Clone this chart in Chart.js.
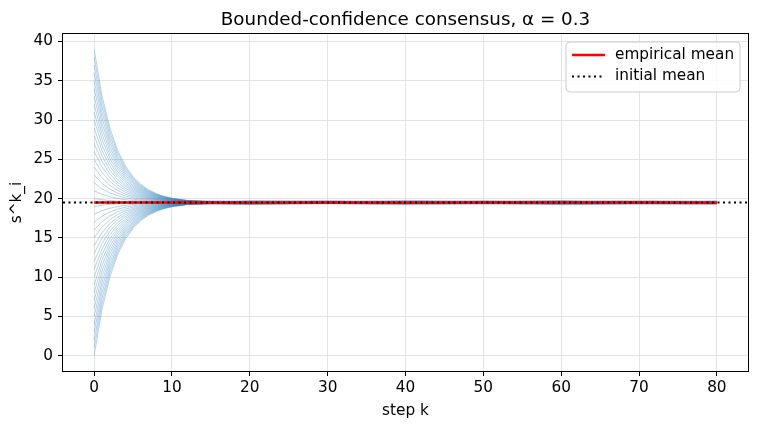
<!DOCTYPE html>
<html>
<head>
<meta charset="utf-8">
<script src="https://cdn.jsdelivr.net/npm/chart.js@4.4.1/dist/chart.umd.min.js"></script>
<style>
    html, body { margin: 0; padding: 0; background: #fff; }
    #wrap { width: 758px; height: 429px; }
</style>
</head>
<body>
<div id="wrap"><canvas id="chart" width="758" height="429"></canvas></div>
<script>
const steps = [0, 1, 2, 3, 4, 5, 6, 7, 8, 9, 10, 12, 15, 20, 30, 40, 50, 60, 70, 80];

// one row per agent, values at the steps above
const agentPaths = [
    [39, 33.15, 29.06, 26.19, 24.18, 22.78, 21.79, 21.11, 20.62, 20.29, 20.05, 19.77, 19.70, 19.58, 19.36, 19.72, 19.52, 19.74, 19.40, 19.68],
    [38, 32.45, 28.57, 25.85, 23.94, 22.61, 21.68, 21.02, 20.57, 20.25, 20.02, 19.76, 19.58, 19.47, 19.60, 19.44, 19.66, 19.51, 19.57, 19.48],
    [37, 31.75, 28.08, 25.50, 23.70, 22.44, 21.56, 20.94, 20.51, 20.21, 19.99, 19.74, 19.60, 19.62, 19.53, 19.48, 19.42, 19.64, 19.59, 19.45],
    [36, 31.05, 27.59, 25.16, 23.46, 22.27, 21.44, 20.86, 20.45, 20.17, 19.97, 19.73, 19.57, 19.51, 19.66, 19.55, 19.49, 19.43, 19.61, 19.53],
    [35, 30.35, 27.10, 24.82, 23.22, 22.11, 21.32, 20.78, 20.39, 20.13, 19.94, 19.72, 19.59, 19.45, 19.52, 19.61, 19.58, 19.50, 19.40, 19.57],
    [34, 29.65, 26.61, 24.47, 22.98, 21.94, 21.21, 20.69, 20.34, 20.09, 19.91, 19.70, 19.55, 19.58, 19.47, 19.52, 19.63, 19.56, 19.48, 19.44],
    [33, 28.95, 26.12, 24.13, 22.74, 21.77, 21.09, 20.61, 20.28, 20.05, 19.88, 19.69, 19.61, 19.50, 19.56, 19.40, 19.54, 19.62, 19.53, 19.59],
    [32, 28.25, 25.63, 23.79, 22.50, 21.60, 20.97, 20.53, 20.22, 20.00, 19.85, 19.67, 19.54, 19.63, 19.44, 19.57, 19.46, 19.53, 19.64, 19.50],
    [31, 27.55, 25.14, 23.45, 22.26, 21.43, 20.85, 20.45, 20.16, 19.96, 19.83, 19.66, 19.56, 19.49, 19.62, 19.51, 19.59, 19.41, 19.55, 19.47],
    [30, 26.85, 24.65, 23.10, 22.02, 21.27, 20.74, 20.37, 20.11, 19.92, 19.80, 19.65, 19.66, 19.74, 19.55, 19.78, 19.62, 19.71, 19.58, 19.69],
    [29, 26.15, 24.16, 22.76, 21.78, 21.10, 20.62, 20.28, 20.05, 19.88, 19.77, 19.63, 19.58, 19.44, 19.57, 19.49, 19.61, 19.47, 19.62, 19.43],
    [28, 25.45, 23.67, 22.42, 21.54, 20.93, 20.50, 20.20, 19.99, 19.84, 19.74, 19.62, 19.52, 19.60, 19.42, 19.56, 19.50, 19.64, 19.45, 19.58],
    [27, 24.75, 23.18, 22.07, 21.30, 20.76, 20.38, 20.12, 19.93, 19.80, 19.71, 19.60, 19.55, 19.52, 19.61, 19.45, 19.57, 19.49, 19.58, 19.51],
    [26, 24.05, 22.69, 21.73, 21.06, 20.59, 20.27, 20.04, 19.88, 19.76, 19.68, 19.59, 19.50, 19.46, 19.54, 19.60, 19.52, 19.44, 19.56, 19.62],
    [25, 23.35, 22.20, 21.39, 20.82, 20.42, 20.15, 19.95, 19.82, 19.72, 19.66, 19.58, 19.57, 19.55, 19.48, 19.53, 19.65, 19.55, 19.47, 19.49],
    [24, 22.65, 21.71, 21.04, 20.58, 20.26, 20.03, 19.87, 19.76, 19.68, 19.63, 19.56, 19.53, 19.61, 19.55, 19.46, 19.51, 19.60, 19.53, 19.54],
    [23, 21.95, 21.22, 20.70, 20.34, 20.09, 19.91, 19.79, 19.70, 19.64, 19.60, 19.55, 19.49, 19.53, 19.45, 19.59, 19.48, 19.52, 19.63, 19.46],
    [22, 21.25, 20.73, 20.36, 20.10, 19.92, 19.79, 19.71, 19.64, 19.60, 19.57, 19.53, 19.56, 19.48, 19.59, 19.54, 19.56, 19.45, 19.51, 19.60],
    [21, 20.55, 20.24, 20.02, 19.86, 19.75, 19.68, 19.62, 19.59, 19.56, 19.54, 19.52, 19.51, 19.57, 19.52, 19.42, 19.60, 19.54, 19.48, 19.52],
    [20, 19.85, 19.75, 19.67, 19.62, 19.58, 19.56, 19.54, 19.53, 19.52, 19.51, 19.51, 19.44, 19.70, 19.76, 19.60, 19.73, 19.66, 19.78, 19.62],
    [19, 19.15, 19.26, 19.33, 19.38, 19.42, 19.44, 19.46, 19.47, 19.48, 19.49, 19.49, 19.36, 19.27, 19.33, 19.21, 19.31, 19.25, 19.35, 19.30],
    [18, 18.45, 18.77, 18.99, 19.14, 19.25, 19.32, 19.38, 19.41, 19.44, 19.46, 19.48, 19.49, 19.43, 19.48, 19.58, 19.40, 19.46, 19.54, 19.47],
    [17, 17.75, 18.28, 18.64, 18.90, 19.08, 19.21, 19.29, 19.36, 19.40, 19.43, 19.47, 19.44, 19.52, 19.41, 19.46, 19.44, 19.55, 19.49, 19.40],
    [16, 17.05, 17.79, 18.30, 18.66, 18.91, 19.09, 19.21, 19.30, 19.36, 19.40, 19.45, 19.51, 19.39, 19.55, 19.41, 19.52, 19.48, 19.37, 19.54],
    [15, 16.35, 17.30, 17.96, 18.42, 18.74, 18.97, 19.13, 19.24, 19.32, 19.37, 19.44, 19.43, 19.47, 19.38, 19.50, 19.36, 19.44, 19.47, 19.50],
    [14, 15.65, 16.81, 17.61, 18.18, 18.58, 18.85, 19.05, 19.18, 19.28, 19.35, 19.42, 19.46, 19.41, 19.49, 19.37, 19.47, 19.39, 19.52, 19.42],
    [13, 14.95, 16.32, 17.27, 17.94, 18.41, 18.74, 18.97, 19.13, 19.24, 19.32, 19.41, 19.40, 19.50, 19.43, 19.45, 19.38, 19.53, 19.40, 19.46],
    [12, 14.25, 15.83, 16.93, 17.70, 18.24, 18.62, 18.88, 19.07, 19.20, 19.29, 19.40, 19.45, 19.37, 19.52, 19.39, 19.50, 19.42, 19.45, 19.38],
    [11, 13.55, 15.34, 16.58, 17.46, 18.07, 18.50, 18.80, 19.01, 19.16, 19.26, 19.38, 19.42, 19.44, 19.36, 19.53, 19.41, 19.37, 19.48, 19.51],
    [10, 12.85, 14.85, 16.24, 17.22, 17.90, 18.38, 18.72, 18.95, 19.12, 19.23, 19.37, 19.39, 19.48, 19.45, 19.40, 19.54, 19.46, 19.36, 19.44],
    [9, 12.15, 14.36, 15.90, 16.98, 17.74, 18.27, 18.64, 18.90, 19.08, 19.20, 19.36, 19.32, 19.24, 19.38, 19.27, 19.36, 19.22, 19.30, 19.29],
    [8, 11.45, 13.87, 15.56, 16.74, 17.57, 18.15, 18.55, 18.84, 19.04, 19.18, 19.34, 19.41, 19.46, 19.38, 19.47, 19.42, 19.35, 19.50, 19.45],
    [7, 10.75, 13.38, 15.21, 16.50, 17.40, 18.03, 18.47, 18.78, 19.00, 19.15, 19.33, 19.38, 19.42, 19.47, 19.36, 19.48, 19.43, 19.39, 19.49],
    [6, 10.05, 12.89, 14.87, 16.26, 17.23, 17.91, 18.39, 18.72, 18.96, 19.12, 19.31, 19.43, 19.38, 19.42, 19.51, 19.37, 19.47, 19.44, 19.36],
    [5, 9.35, 12.40, 14.53, 16.02, 17.06, 17.79, 18.31, 18.66, 18.92, 19.09, 19.30, 19.37, 19.45, 19.39, 19.43, 19.49, 19.38, 19.51, 19.43],
    [4, 8.65, 11.91, 14.18, 15.78, 16.90, 17.68, 18.22, 18.61, 18.88, 19.06, 19.29, 19.40, 19.35, 19.46, 19.38, 19.44, 19.50, 19.41, 19.47],
    [3, 7.95, 11.42, 13.84, 15.54, 16.73, 17.56, 18.14, 18.55, 18.83, 19.03, 19.27, 19.36, 19.43, 19.37, 19.48, 19.35, 19.45, 19.46, 19.39],
    [2, 7.25, 10.93, 13.50, 15.30, 16.56, 17.44, 18.06, 18.49, 18.79, 19.01, 19.26, 19.39, 19.40, 19.44, 19.35, 19.46, 19.41, 19.37, 19.48],
    [1, 6.55, 10.44, 13.15, 15.06, 16.39, 17.32, 17.98, 18.43, 18.75, 18.98, 19.24, 19.35, 19.44, 19.40, 19.45, 19.39, 19.49, 19.42, 19.44],
    [0, 5.85, 9.95, 12.81, 14.82, 16.22, 17.21, 17.89, 18.38, 18.71, 18.95, 19.23, 19.30, 19.26, 19.46, 19.32, 19.60, 19.28, 19.34, 19.31]
];

const meanPath = [19.5, 19.5, 19.5, 19.5, 19.5, 19.5, 19.5, 19.5, 19.5, 19.5, 19.5, 19.5, 19.48, 19.48, 19.49, 19.48, 19.5, 19.5, 19.49, 19.48];
const initialMean = 19.5;

const xTicks = [0, 10, 20, 30, 40, 50, 60, 70, 80];
const yTicks = [0, 5, 10, 15, 20, 25, 30, 35, 40];
const xRange = [-4, 84];
const yRange = [-1.95, 40.95];

const FONT = '"DejaVu Sans", "Liberation Sans", sans-serif';

const toPoints = (vals) => steps.map((k, i) => ({ x: k, y: vals[i] }));

const datasets = [
    {
        label: 'initial mean',
        data: [{ x: xRange[0], y: initialMean }, { x: xRange[1], y: initialMean }],
        borderColor: '#000000',
        borderWidth: 2,
        borderDash: [2, 3.5],
        borderCapStyle: 'butt',
        pointRadius: 0,
        order: 0
    },
    {
        label: 'empirical mean',
        data: toPoints(meanPath),
        borderColor: '#ff0000',
        borderWidth: 2.5,
        pointRadius: 0,
        order: 1
    },
    ...agentPaths.map((p) => ({
        label: '',
        data: toPoints(p),
        borderColor: 'rgba(31,119,180,0.36)',
        borderWidth: 0.9,
        pointRadius: 0,
        order: 2
    }))
];

// title, axis labels, frame and the in-axes legend
const decor = {
    id: 'decor',
    afterDraw(chart) {
        const { ctx, chartArea: a } = chart;
        const cx = (a.left + a.right) / 2;
        const cy = (a.top + a.bottom) / 2;
        ctx.save();

        ctx.strokeStyle = '#000';
        ctx.lineWidth = 1;
        ctx.strokeRect(Math.round(a.left) - 0.5, Math.round(a.top) - 0.5,
            Math.round(a.right - a.left) + 1, Math.round(a.bottom - a.top) + 1);

        ctx.fillStyle = '#000';
        ctx.textAlign = 'center';
        ctx.textBaseline = 'alphabetic';
        ctx.font = '18.3px ' + FONT;
        ctx.fillText('Bounded-confidence consensus, α = 0.3', cx, 25);

        ctx.font = '15.3px ' + FONT;
        ctx.fillText('step k', cx, 415);

        ctx.save();
        ctx.translate(21, cy);
        ctx.rotate(-Math.PI / 2);
        ctx.fillText('s^k_i', 0, 0);
        ctx.restore();

        // legend box
        const bx = 566, by = 42, bw = 174, bh = 50, r = 4;
        ctx.beginPath();
        ctx.moveTo(bx + r, by);
        ctx.arcTo(bx + bw, by, bx + bw, by + bh, r);
        ctx.arcTo(bx + bw, by + bh, bx, by + bh, r);
        ctx.arcTo(bx, by + bh, bx, by, r);
        ctx.arcTo(bx, by, bx + bw, by, r);
        ctx.closePath();
        ctx.fillStyle = 'rgba(255,255,255,0.8)';
        ctx.fill();
        ctx.strokeStyle = '#cccccc';
        ctx.lineWidth = 1;
        ctx.stroke();

        ctx.lineCap = 'butt';
        ctx.beginPath();
        ctx.strokeStyle = '#ff0000';
        ctx.lineWidth = 2.5;
        ctx.moveTo(572, 55);
        ctx.lineTo(605, 55);
        ctx.stroke();

        ctx.beginPath();
        ctx.strokeStyle = '#000';
        ctx.lineWidth = 2;
        ctx.setLineDash([2, 3.5]);
        ctx.moveTo(572, 76.5);
        ctx.lineTo(605, 76.5);
        ctx.stroke();
        ctx.setLineDash([]);

        ctx.fillStyle = '#000';
        ctx.textAlign = 'left';
        ctx.textBaseline = 'middle';
        ctx.font = '15.3px ' + FONT;
        ctx.fillText('empirical mean', 615, 55);
        ctx.fillText('initial mean', 615, 76.5);

        ctx.restore();
    }
};

new Chart(document.getElementById('chart'), {
    type: 'line',
    data: { datasets },
    options: {
        responsive: false,
        animation: false,
        devicePixelRatio: 1,
        events: [],
        layout: { padding: { left: 0, right: 10, top: 34, bottom: 0 } },
        plugins: {
            legend: { display: false },
            tooltip: { enabled: false },
            title: { display: false }
        },
        elements: { line: { tension: 0 } },
        scales: {
            x: {
                type: 'linear',
                min: xRange[0],
                max: xRange[1],
                afterBuildTicks: (s) => { s.ticks = xTicks.map((v) => ({ value: v })); },
                afterFit: (s) => { s.height = 58; },
                ticks: {
                    color: '#000',
                    font: { family: FONT, size: 15.3 },
                    padding: 3,
                    maxRotation: 0,
                    autoSkip: false
                },
                grid: { color: '#e4e4e4', lineWidth: 1, tickColor: '#000', tickLength: 5, tickWidth: 1 },
                border: { display: false }
            },
            y: {
                type: 'linear',
                min: yRange[0],
                max: yRange[1],
                afterBuildTicks: (s) => { s.ticks = yTicks.map((v) => ({ value: v })); },
                afterFit: (s) => { s.width = 63; },
                ticks: {
                    color: '#000',
                    font: { family: FONT, size: 15.3 },
                    padding: 5
                },
                grid: { color: '#e4e4e4', lineWidth: 1, tickColor: '#000', tickLength: 5, tickWidth: 1 },
                border: { display: false }
            }
        }
    },
    plugins: [decor]
});
</script>
</body>
</html>
